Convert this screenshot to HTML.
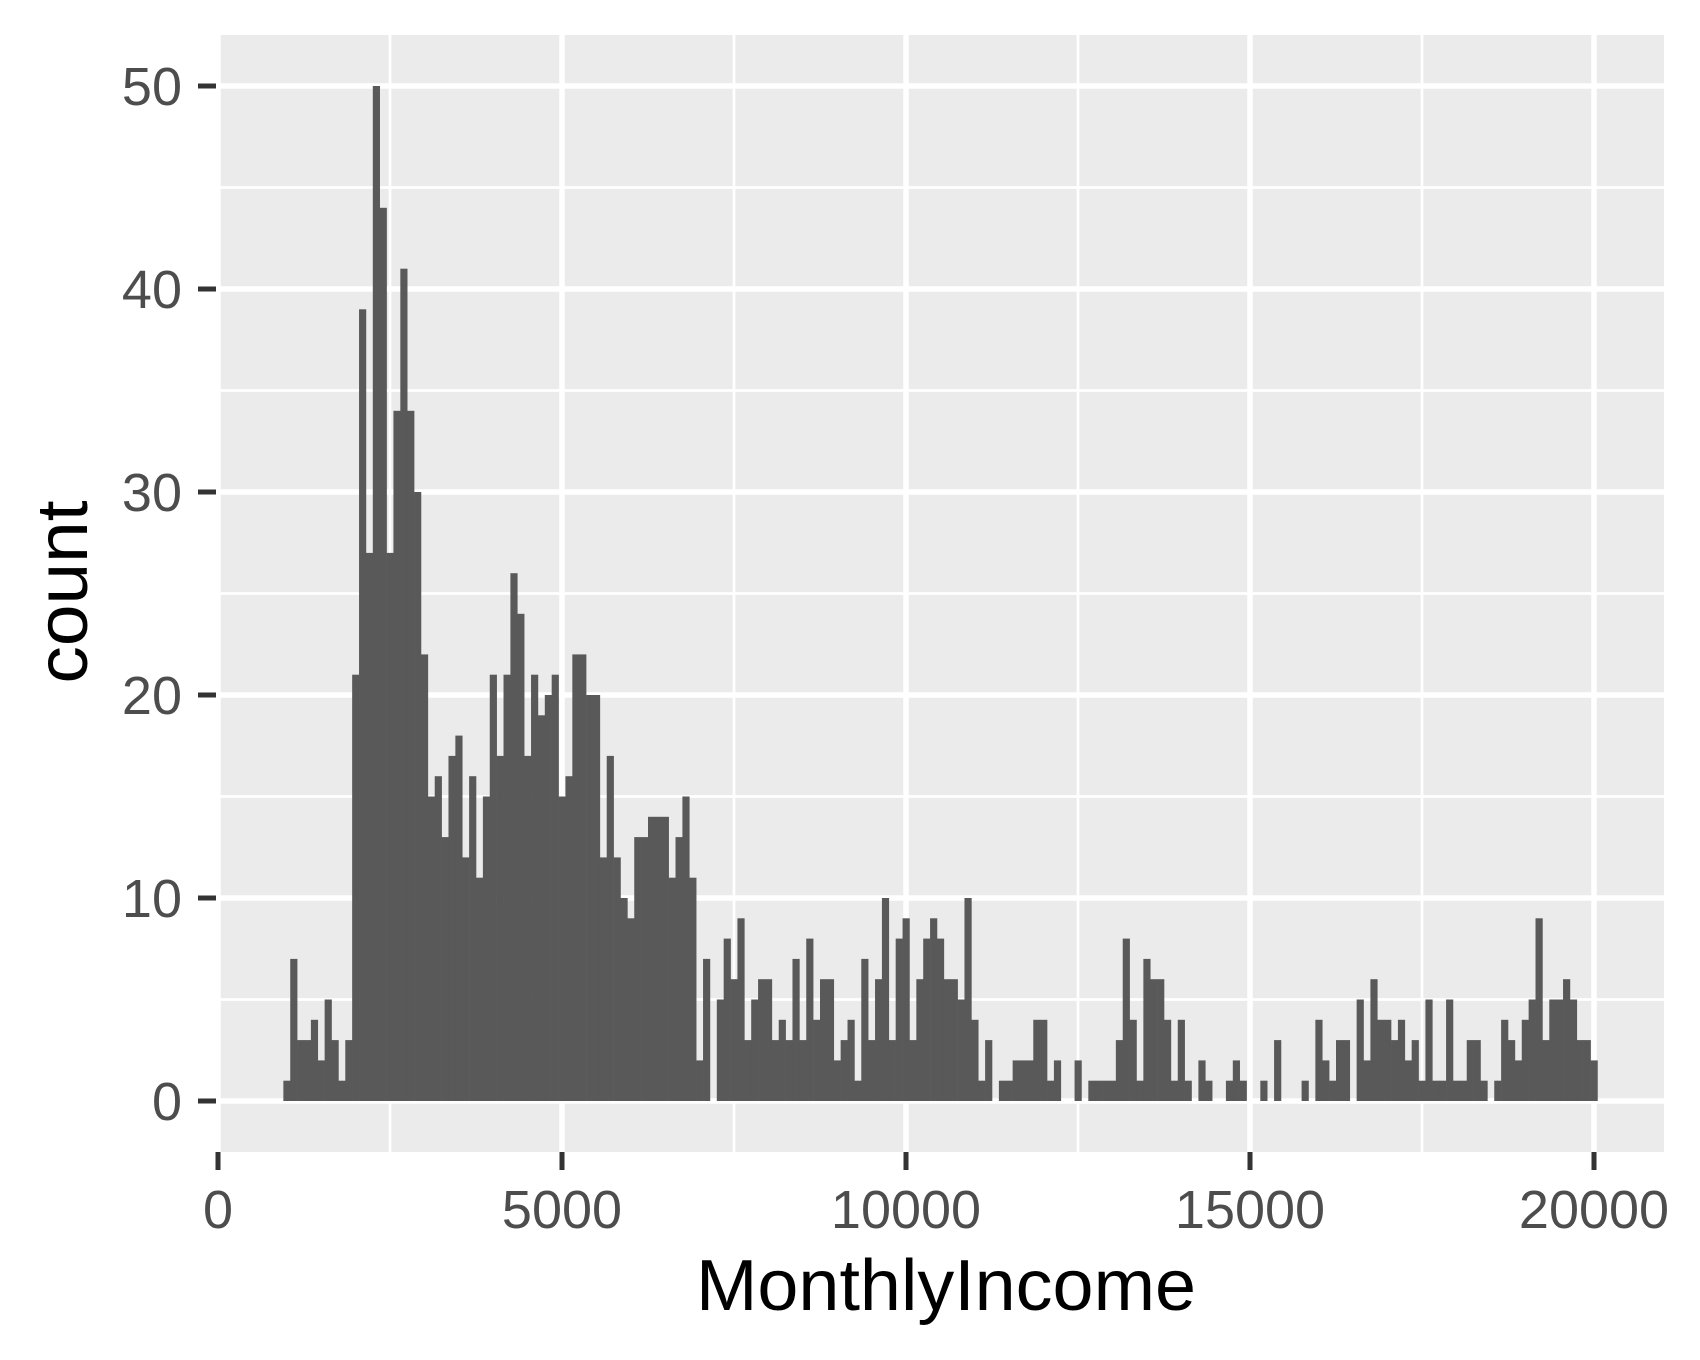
<!DOCTYPE html>
<html><head><meta charset="utf-8"><style>
html,body{margin:0;padding:0;background:#fff;}
svg{display:block;}
text{font-family:"Liberation Sans",sans-serif;}
</style></head>
<body>
<svg id="chart" width="1700" height="1360" viewBox="0 0 1700 1360" xmlns="http://www.w3.org/2000/svg">
<rect x="219" y="35" width="1445" height="1117" fill="#ebebeb"/>
<g id="grid"></g>
<g id="bars"></g>
<g id="axes"></g>
<text x="946" y="1310" font-size="72" fill="#000" text-anchor="middle" textLength="500" lengthAdjust="spacingAndGlyphs">MonthlyIncome</text>
<text transform="translate(87,592) rotate(-90)" font-size="72" fill="#000" text-anchor="middle" textLength="183" lengthAdjust="spacingAndGlyphs">count</text>
</svg>
<script>
const binStart = 950;
const binWidth = 100;
const counts = [
1,7,3,3,4,2,5,3,1,3,
21,39,27,50,44,27,34,41,34,30,22,15,16,13,17,18,12,16,
11,15,21,17,21,26,24,17,21,19,20,21,15,16,22,22,20,20,12,17,12,10,9,13,13,14,14,
14,11,13,15,11,2,7,0,5,8,6,9,3,5,6,6,3,4,3,7,3,8,4,6,6,2,3,4,1,7,3,6,10,3,8,9,3,6,8,9,8,6,6,5,10,4,1,3,0,1,1,2,2,2,4,4,1,2,0,0,2,0,1,
1,1,1,3,8,4,1,7,6,6,4,1,4,1,0,2,1,0,0,1,2,1,0,0,1,0,3,0,0,0,1,0,4,2,1,3,3,0,5,2,6,4,4,3,4,2,3,1,5,1,1,5,1,1,3,3,1,0,1,4,3,2,4,5,9,3,5,5,6,5,3,3,2
];
const xTicks = [0,5000,10000,15000,20000];
const xTickLabels = ["0","5000","10000","15000","20000"];
const xMinor = [2500,7500,12500,17500];
const yTicks = [0,10,20,30,40,50];
const yTickLabels = ["0","10","20","30","40","50"];
const yMinor = [5,15,25,35,45];

const NS = "http://www.w3.org/2000/svg";
const PL = 219, PR = 1664, PT = 35, PB = 1152;
function xs(v){ return 218 + v * (1594 - 218) / 20000; }
function ys(v){ return 1101 - v * (1101 - 86) / 50; }
function mk(tag, attrs, parent){
  const el = document.createElementNS(NS, tag);
  for (const k in attrs) el.setAttribute(k, attrs[k]);
  parent.appendChild(el);
  return el;
}
const grid = document.getElementById('grid');
const bars = document.getElementById('bars');
const axes = document.getElementById('axes');

yMinor.forEach(v => {
  const l = mk('line', {x1:PL, x2:PR, y1:ys(v), y2:ys(v), stroke:'#fff', 'stroke-width':2.7}, grid);
  
  
});
xMinor.forEach(v => {
  const l = mk('line', {x1:xs(v), x2:xs(v), y1:PT, y2:PB, stroke:'#fff', 'stroke-width':2.7}, grid);
  
  
});
yTicks.forEach(v => {
  const l = mk('line', {x1:PL, x2:PR, y1:ys(v), y2:ys(v), stroke:'#fff', 'stroke-width':5.5}, grid);
  
  
});
xTicks.forEach(v => {
  const l = mk('line', {x1:xs(v), x2:xs(v), y1:PT, y2:PB, stroke:'#fff', 'stroke-width':5.5}, grid);
  
  
});

counts.forEach((c, i) => {
  if (c <= 0) return;
  const x0 = xs(binStart + i * binWidth), x1 = xs(binStart + (i + 1) * binWidth);
  const r = mk('rect', {x:x0, y:ys(c), width:x1 - x0 + 0.3, height:ys(0) - ys(c), fill:'#595959'}, bars);
  
  
});

yTicks.forEach((v, i) => {
  const t = mk('line', {x1:198, x2:216, y1:ys(v), y2:ys(v), stroke:'#333', 'stroke-width':5}, axes);
  
  
  const tx = mk('text', {x:182, y:ys(v) + 19, 'font-size':54, fill:'#4d4d4d', 'text-anchor':'end'}, axes);
  tx.textContent = yTickLabels[i];
  
  
});
xTicks.forEach((v, i) => {
  const t = mk('line', {x1:xs(v), x2:xs(v), y1:PB, y2:1170, stroke:'#333', 'stroke-width':5}, axes);
  
  
  const tx = mk('text', {x:xs(v), y:1228, 'font-size':54, fill:'#4d4d4d', 'text-anchor':'middle'}, axes);
  tx.textContent = xTickLabels[i];
  
  
});
</script>
</body></html>
